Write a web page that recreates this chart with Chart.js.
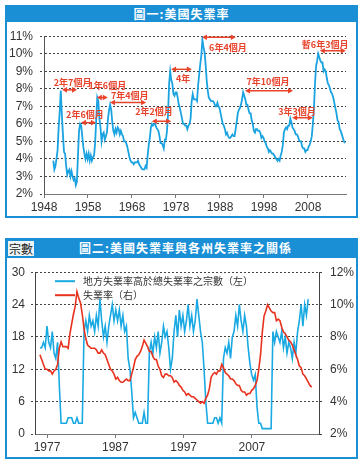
<!DOCTYPE html>
<html>
<head>
<meta charset="utf-8">
<script src="https://cdn.jsdelivr.net/npm/chart.js@4.4.1/dist/chart.umd.min.js"></script>
<style>
  html, body { margin: 0; padding: 0; background: #fff; width: 363px; height: 464px; overflow: hidden; }
  .panel { position: absolute; left: 5px; width: 353px; background: #1a8fd5; }
  .title { position: absolute; left: 0; right: 0; top: 0; text-align: center; color: #fff;
           font-family: "Noto Sans CJK TC", sans-serif; font-weight: bold; font-size: 12px; letter-spacing: 1px; }
  .body { position: absolute; left: 2px; right: 2px; bottom: 2px; background: #fff; }
  canvas { position: absolute; left: 0; top: 0; }
  .unit { position: absolute; left: 3px; top: 3px; width: 26px; height: 15px; background: #eef3f6; color: #222;
          font: 12px/15px "Noto Sans CJK TC", sans-serif; text-align: center; }
</style>
</head>
<body>

<div class="panel" style="top:5px;height:213px;">
  <div class="title" style="height:17px;line-height:17px;">圖一:美國失業率</div>
  <div class="body" style="top:17px;"><canvas id="chart1" width="349" height="194"></canvas></div>
</div>

<div class="panel" style="top:238px;height:221px;">
  <div class="unit">宗數</div>
  <div class="title" style="height:20px;line-height:20px;padding-left:8px;">圖二:美國失業率與各州失業率之關係</div>
  <div class="body" style="top:20px;"><canvas id="chart2" width="349" height="199"></canvas></div>
</div>

<script>
// US unemployment rate, quarterly, 1948 Q1 .. 2016 Q1 (%)
const usRate = [
  3.9, 3.4, 3.6, 4.0,   4.5, 5.8, 6.7, 7.9,   6.5, 5.4, 4.4, 4.3,   3.6, 3.1, 3.3, 3.4,
  3.0, 3.3, 3.0, 2.8,   2.9, 2.5, 2.7, 4.2,   5.6, 6.0, 5.9, 5.3,   4.7, 4.3, 4.0, 4.3,
  4.0, 4.3, 3.9, 4.2,   3.9, 4.1, 4.2, 4.9,   6.2, 7.5, 7.3, 6.3,   5.8, 5.0, 5.4, 5.5,
  5.1, 5.3, 5.5, 6.3,   6.8, 7.1, 6.8, 6.1,   5.6, 5.4, 5.7, 5.5,   5.8, 5.7, 5.4, 5.6,
  5.4, 5.3, 5.0, 5.0,   4.9, 4.7, 4.4, 4.1,   3.9, 3.8, 3.8, 3.7,   3.8, 3.8, 3.8, 3.9,
  3.7, 3.6, 3.5, 3.4,   3.4, 3.4, 3.6, 3.5,   4.2, 4.8, 5.2, 5.8,   6.0, 5.9, 6.0, 6.0,
  5.8, 5.7, 5.6, 5.3,   4.9, 4.9, 4.8, 4.6,   5.1, 5.1, 5.6, 6.6,   8.3, 9.0, 8.5, 8.3,
  7.7, 7.6, 7.8, 7.8,   7.5, 7.1, 6.9, 6.6,   6.3, 6.0, 6.0, 5.9,   5.9, 5.7, 5.9, 6.0,
  6.3, 7.3, 7.7, 7.4,   7.4, 7.4, 7.3, 8.2,   8.8, 9.4, 9.9, 10.8,  10.4, 10.1, 9.4, 8.5,
  7.9, 7.5, 7.4, 7.3,   7.3, 7.3, 7.2, 7.0,   7.0, 7.2, 7.0, 6.9,   6.6, 6.3, 6.0, 5.9,
  5.7, 5.4, 5.5, 5.3,   5.2, 5.2, 5.3, 5.4,   5.3, 5.3, 5.7, 6.1,   6.6, 6.8, 6.9, 7.1,
  7.4, 7.8, 7.6, 7.4,   7.1, 7.1, 6.8, 6.6,   6.6, 6.2, 6.0, 5.6,   5.5, 5.7, 5.7, 5.6,
  5.6, 5.5, 5.2, 5.3,   5.2, 5.0, 4.9, 4.7,   4.6, 4.4, 4.5, 4.4,   4.3, 4.3, 4.2, 4.1,
  4.0, 3.9, 4.0, 3.9,   4.2, 4.4, 4.8, 5.5,   5.7, 5.8, 5.7, 5.9,   5.9, 6.3, 6.1, 5.8,
  5.7, 5.6, 5.4, 5.4,   5.3, 5.1, 5.0, 5.0,   4.7, 4.6, 4.6, 4.4,   4.5, 4.5, 4.7, 4.8,
  5.0, 5.3, 6.0, 6.9,   8.3, 9.3, 9.6, 10.0,  9.8, 9.6, 9.5, 9.5,   9.0, 9.1, 9.0, 8.6,
  8.3, 8.2, 8.0, 7.8,   7.7, 7.5, 7.2, 6.9,   6.6, 6.2, 6.1, 5.7,   5.6, 5.4, 5.2, 5.0,
  4.9
];
// where the quarterly series sits on each picture's own year axis
const start1 = 1950.11, step1 = 0.2438;
const start2 = 1975.96, step2 = 0.2584;
const chart2From = 118;   // chart 2 starts with 1977 Q3

// number of states with unemployment above the national rate (chart 2, left axis)
const stateCount = [
  16, 16, 17, 16, 20, 17, 16, 19, 15, 14, 17,
  9, 2, 2, 2, 2, 3, 3, 3, 2, 2,
  3, 2, 2, 2, 19, 21, 19, 22, 20, 21,
  19, 22, 20, 25, 21, 18, 20, 17, 20, 22,
  24, 21, 23, 21, 23, 20, 22, 19, 20, 14,
  12, 8, 3, 4, 3, 2, 2, 2, 4, 2,
  2, 15, 17, 15, 18, 16, 19, 15, 17, 20,
  18, 19, 16, 12, 14, 19, 22, 18, 23, 20,
  22, 19, 21, 24, 20, 22, 19, 21, 25, 22,
  19, 17, 12, 6, 2, 2, 2, 2, 3, 3,
  2, 3, 2, 14, 16, 15, 17, 14, 18, 19,
  22, 20, 24, 21, 19, 22, 20, 16, 13, 11,
  10, 11, 5, 2, 2, 1, 1, 1, 1, 1,
  1, 19, 17, 19, 18, 17, 19, 16, 18, 15,
  17, 16, 14, 17, 15, 19, 21, 24, 20, 24,
  22, 25
];

const tickYears1 = [1948, 1958, 1968, 1978, 1988, 1998, 2008];
const tickRates1 = [2, 3, 4, 5, 6, 7, 8, 9, 10, 11];
const tickYears2 = [1977, 1987, 1997, 2007];
const tickCounts2 = [0, 6, 12, 18, 24, 30];
const tickRates2 = [2, 4, 6, 8, 10, 12];

// expansion spans marked on chart 1
const spanLabels = ['2年7個月', '1年6個月', '7年4個月', '2年6個月', '2年2個月', '4年', '6年4個月', '7年10個月', '3年3個月', '暫6年3個月'];
const spanFrom   = [1952.1, 1960.0, 1963.0, 1956.4, 1972.5, 1976.9, 1983.9, 1993.7, 2004.4, 2010.7];
const spanTo     = [1955.5, 1962.5, 1971.2, 1959.8, 1976.9, 1981.6, 1991.6, 2004.6, 2009.1, 2016.6];
const spanLevel  = [7.94, 7.5, 7.22, 6.07, 6.15, 9.11, 10.94, 7.89, 6.35, 10.17];
const spanTextX  = [1954.5, 1962.4, 1967.5, 1957.3, 1973.0, 1979.6, 1989.8, 1998.9, 2005.5, 2011.9];
const spanTextY  = [8.33, 8.17, 7.64, 6.53, 6.72, 8.56, 10.33, 8.44, 6.72, 10.5];

Chart.defaults.font.family = '"Liberation Sans", Arial, sans-serif';
Chart.defaults.font.size = 12;
Chart.defaults.color = '#333';

function toPoints(start, step, values) {
  return values.map((v, i) => ({ x: start + i * step, y: v }));
}

const spanArrows = {
  id: 'spanArrows',
  afterDatasetsDraw(chart) {
    const { ctx, scales: { x, y } } = chart;
    ctx.save();
    ctx.strokeStyle = '#e8432b';
    ctx.fillStyle = '#e8432b';
    ctx.lineWidth = 1.5;
    const head = (px, py, dir) => {
      ctx.beginPath();
      ctx.moveTo(px, py);
      ctx.lineTo(px + dir * 5, py - 2.8);
      ctx.lineTo(px + dir * 5, py + 2.8);
      ctx.closePath();
      ctx.fill();
    };
    spanLabels.forEach((txt, i) => {
      const x1 = x.getPixelForValue(spanFrom[i]);
      const x2 = x.getPixelForValue(spanTo[i]);
      const yy = y.getPixelForValue(spanLevel[i]);
      ctx.beginPath();
      ctx.moveTo(x1 + 3, yy);
      ctx.lineTo(x2 - 3, yy);
      ctx.stroke();
      head(x1, yy, 1);
      head(x2, yy, -1);
      ctx.font = 'bold 9px "Noto Sans CJK TC", sans-serif';
      ctx.textAlign = 'center';
      ctx.textBaseline = 'middle';
      ctx.fillText(txt, x.getPixelForValue(spanTextX[i]), y.getPixelForValue(spanTextY[i]));
    });
    ctx.restore();
  }
};

const legendInside = {
  id: 'legendInside',
  afterDatasetsDraw(chart) {
    const { ctx, chartArea } = chart;
    ctx.save();
    ctx.font = '10px "Noto Sans CJK TC", sans-serif';
    ctx.textBaseline = 'middle';
    ctx.textAlign = 'left';
    chart.data.datasets.forEach((ds, i) => {
      const y = chartArea.top + 9 + i * 14;
      ctx.strokeStyle = ds.borderColor;
      ctx.lineWidth = 2;
      ctx.beginPath();
      ctx.moveTo(chartArea.left + 20, y);
      ctx.lineTo(chartArea.left + 40, y);
      ctx.stroke();
      ctx.fillStyle = '#333';
      ctx.fillText(ds.label, chartArea.left + 48, y);
    });
    ctx.restore();
  }
};

const dotted = [2, 2];

// ---- chart 1 ----
new Chart(document.getElementById('chart1'), {
  type: 'line',
  data: {
    datasets: [{
      label: '美國失業率',
      data: toPoints(start1, step1, usRate),
      borderColor: '#1ba3e1',
      borderWidth: 1.8,
      pointRadius: 0,
      tension: 0
    }]
  },
  options: {
    responsive: false,
    animation: false,
    layout: { padding: { top: 10, right: 10 } },
    plugins: { legend: { display: false }, tooltip: { enabled: false } },
    scales: {
      x: {
        type: 'linear', min: 1948, max: 2016.64,
        afterBuildTicks: s => { s.ticks = tickYears1.map(v => ({ value: v })); },
        afterFit: s => { s.height = 22; },
        grid: { drawOnChartArea: false, tickLength: 4, color: '#777' },
        border: { color: '#777' },
        ticks: { callback: v => String(v), maxRotation: 0, autoSkip: false, padding: 2 }
      },
      y: {
        min: 2, max: 11,
        afterBuildTicks: s => { s.ticks = tickRates1.map(v => ({ value: v })); },
        afterFit: s => { s.width = 37; },
        grid: { color: '#444', tickLength: 4, tickBorderDash: dotted },
        border: { color: '#555', dash: dotted },
        ticks: { callback: v => v + '%', padding: 7 }
      }
    }
  },
  plugins: [spanArrows]
});

// ---- chart 2 ----
new Chart(document.getElementById('chart2'), {
  type: 'line',
  data: {
    datasets: [{
      label: '地方失業率高於總失業率之宗數（左）',
      data: toPoints(start2, step2, stateCount),
      borderColor: '#19aae3',
      borderWidth: 1.6,
      pointRadius: 0,
      tension: 0,
      yAxisID: 'y',
      order: 1
    }, {
      label: '失業率（右）',
      data: toPoints(start2, step2, usRate.slice(chart2From)),
      borderColor: '#e8321e',
      borderWidth: 1.6,
      pointRadius: 0,
      tension: 0,
      yAxisID: 'y2',
      order: 0
    }]
  },
  options: {
    responsive: false,
    animation: false,
    layout: { padding: { top: 10 } },
    plugins: { legend: { display: false }, tooltip: { enabled: false } },
    scales: {
      x: {
        type: 'linear', min: 1975.24, max: 2016.82,
        afterBuildTicks: s => { s.ticks = tickYears2.map(v => ({ value: v })); },
        afterFit: s => { s.height = 23; },
        grid: { drawOnChartArea: false, tickLength: 4, color: '#777' },
        border: { color: '#777' },
        ticks: { callback: v => String(v), maxRotation: 0, autoSkip: false, padding: 2 }
      },
      y: {
        position: 'left', min: 0, max: 30,
        afterBuildTicks: s => { s.ticks = tickCounts2.map(v => ({ value: v })); },
        afterFit: s => { s.width = 28; },
        grid: { color: '#444', tickLength: 4, tickBorderDash: dotted },
        border: { color: '#444', dash: dotted },
        ticks: { padding: 6 }
      },
      y2: {
        position: 'right', min: 2, max: 12,
        afterBuildTicks: s => { s.ticks = tickRates2.map(v => ({ value: v })); },
        afterFit: s => { s.width = 37; },
        grid: { drawOnChartArea: false, color: '#444', tickLength: 4, tickBorderDash: dotted },
        border: { color: '#444' },
        ticks: { callback: v => v + '%', padding: 7 }
      }
    }
  },
  plugins: [legendInside]
});
</script>
</body>
</html>
